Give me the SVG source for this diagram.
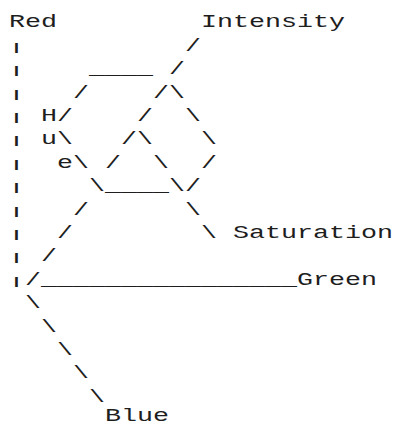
<svg xmlns="http://www.w3.org/2000/svg" width="397" height="425" viewBox="0 0 397 425">
  <style>
    text { font-family: "Liberation Mono", "DejaVu Sans Mono", monospace; font-size: 18px; fill: #1e1e1e; }
    .bar { text-anchor: middle; }
  </style>
  <rect width="397" height="425" fill="#ffffff"/>
  <g id="red"><text x="9" y="27.4" textLength="48" lengthAdjust="spacingAndGlyphs">Red</text></g>
  <g id="intensity"><text x="201" y="27.4" textLength="144" lengthAdjust="spacingAndGlyphs">Intensity</text></g>
  <g id="saturation"><text x="233" y="238" textLength="160" lengthAdjust="spacingAndGlyphs">Saturation</text></g>
  <g id="green"><text x="297" y="284.8" textLength="80" lengthAdjust="spacingAndGlyphs">Green</text></g>
  <g id="blue"><text x="105" y="420.5" textLength="64" lengthAdjust="spacingAndGlyphs">Blue</text></g>
  <g id="hue">
    <text x="41" y="121" textLength="16" lengthAdjust="spacingAndGlyphs">H</text>
    <text x="41" y="144.4" textLength="16" lengthAdjust="spacingAndGlyphs">u</text>
    <text x="57" y="167.8" textLength="16" lengthAdjust="spacingAndGlyphs">e</text>
  </g>
  <g id="connectors">
    <g id="red-axis">
      <text class="bar" transform="translate(16.5,50.8) scale(1.8,0.62)">|</text>
      <text class="bar" transform="translate(16.5,74.2) scale(1.8,0.62)">|</text>
      <text class="bar" transform="translate(16.5,97.6) scale(1.8,0.62)">|</text>
      <text class="bar" transform="translate(16.5,121) scale(1.8,0.62)">|</text>
      <text class="bar" transform="translate(16.5,144.4) scale(1.8,0.62)">|</text>
      <text class="bar" transform="translate(16.5,167.8) scale(1.8,0.62)">|</text>
      <text class="bar" transform="translate(16.5,191.2) scale(1.8,0.62)">|</text>
      <text class="bar" transform="translate(16.5,214.6) scale(1.8,0.62)">|</text>
      <text class="bar" transform="translate(16.5,238) scale(1.8,0.62)">|</text>
      <text class="bar" transform="translate(16.5,261.4) scale(1.8,0.62)">|</text>
      <text class="bar" transform="translate(16.5,284.8) scale(1.8,0.62)">|</text>
    </g>
    <text x="185" y="50.8" textLength="16" lengthAdjust="spacingAndGlyphs">/</text>
    <text x="89" y="74.2" textLength="64" lengthAdjust="spacingAndGlyphs">____</text>
    <text x="169" y="74.2" textLength="16" lengthAdjust="spacingAndGlyphs">/</text>
    <text x="73" y="97.6" textLength="16" lengthAdjust="spacingAndGlyphs">/</text>
    <text x="153" y="97.6" textLength="32" lengthAdjust="spacingAndGlyphs">/\</text>
    <text x="57" y="121" textLength="16" lengthAdjust="spacingAndGlyphs">/</text>
    <text x="137" y="121" textLength="16" lengthAdjust="spacingAndGlyphs">/</text>
    <text x="185" y="121" textLength="16" lengthAdjust="spacingAndGlyphs">\</text>
    <text x="57" y="144.4" textLength="16" lengthAdjust="spacingAndGlyphs">\</text>
    <text x="121" y="144.4" textLength="32" lengthAdjust="spacingAndGlyphs">/\</text>
    <text x="201" y="144.4" textLength="16" lengthAdjust="spacingAndGlyphs">\</text>
    <text x="73" y="167.8" textLength="16" lengthAdjust="spacingAndGlyphs">\</text>
    <text x="105" y="167.8" textLength="16" lengthAdjust="spacingAndGlyphs">/</text>
    <text x="153" y="167.8" textLength="16" lengthAdjust="spacingAndGlyphs">\</text>
    <text x="201" y="167.8" textLength="16" lengthAdjust="spacingAndGlyphs">/</text>
    <text x="89" y="191.2" textLength="112" lengthAdjust="spacingAndGlyphs">\____\/</text>
    <text x="73" y="214.6" textLength="16" lengthAdjust="spacingAndGlyphs">/</text>
    <text x="185" y="214.6" textLength="16" lengthAdjust="spacingAndGlyphs">\</text>
    <text x="57" y="238" textLength="16" lengthAdjust="spacingAndGlyphs">/</text>
    <text x="201" y="238" textLength="16" lengthAdjust="spacingAndGlyphs">\</text>
    <text x="41" y="261.4" textLength="16" lengthAdjust="spacingAndGlyphs">/</text>
    <text x="25" y="284.8" textLength="16" lengthAdjust="spacingAndGlyphs">/</text>
    <text x="41" y="284.8" textLength="256" lengthAdjust="spacingAndGlyphs">________________</text>
    <text x="25" y="308.2" textLength="16" lengthAdjust="spacingAndGlyphs">\</text>
    <text x="41" y="331.6" textLength="16" lengthAdjust="spacingAndGlyphs">\</text>
    <text x="57" y="355" textLength="16" lengthAdjust="spacingAndGlyphs">\</text>
    <text x="73" y="378.4" textLength="16" lengthAdjust="spacingAndGlyphs">\</text>
    <text x="89" y="401.8" textLength="16" lengthAdjust="spacingAndGlyphs">\</text>
  </g>
</svg>
